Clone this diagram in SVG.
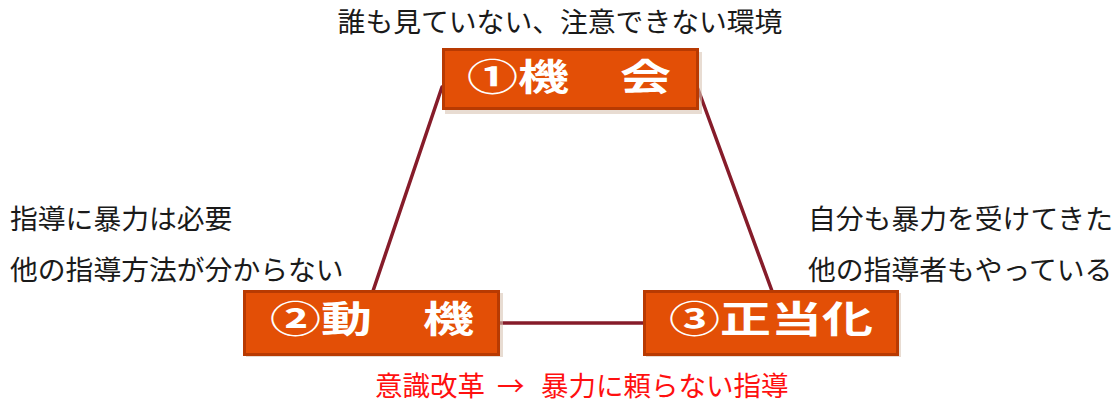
<svg xmlns="http://www.w3.org/2000/svg" width="1118" height="403" viewBox="0 0 1118 403">
<style>
.lbl{font-family:"Noto Sans CJK JP","Noto Sans",sans-serif;font-size:27.8px;fill:#1a1a1a}
.red{font-family:"Noto Sans CJK JP","Noto Sans",sans-serif;font-size:27.5px;fill:#ff1010}
.box{fill:#e34f06;stroke:#b83a02;stroke-width:3}
.shadow{fill:#d9c4b4;opacity:0.6}
.bt{font-family:"Noto Sans CJK JP","Noto Sans",sans-serif;font-size:37px;font-weight:700;fill:#ffffff}
.con{stroke:#861c2a;stroke-width:3.5;fill:none;stroke-linecap:round}
</style>
<rect width="1118" height="403" fill="#ffffff"/>
<g id="connectors">
<line class="con" x1="442" y1="87" x2="373" y2="291"/>
<line class="con" x1="698" y1="89" x2="772" y2="291"/>
<line class="con" x1="498" y1="323" x2="645" y2="323"/>
</g>
<g id="node1">
<rect class="shadow" x="445" y="52" width="257" height="62"/>
<rect class="box" x="443.5" y="49.5" width="254" height="59"/>
<text class="bt" x="467" y="90.5" textLength="204" lengthAdjust="spacingAndGlyphs">①機　会</text>
</g>
<g id="node2">
<rect class="shadow" x="246" y="293" width="257" height="64"/>
<rect class="box" x="244.5" y="291.5" width="254" height="63"/>
<text class="bt" x="270" y="333" textLength="204" lengthAdjust="spacingAndGlyphs">②動　機</text>
</g>
<g id="node3">
<rect class="shadow" x="646" y="293" width="255" height="64"/>
<rect class="box" x="644.5" y="291.5" width="253" height="63"/>
<text class="bt" x="669" y="333" textLength="204" lengthAdjust="spacingAndGlyphs">③正当化</text>
</g>
<g id="labels">
<text class="lbl" x="560" y="32" text-anchor="middle">誰も見ていない、注意できない環境</text>
<text class="lbl" x="10" y="229">指導に暴力は必要</text>
<text class="lbl" x="10" y="280">他の指導方法が分からない</text>
<text class="lbl" x="808" y="229">自分も暴力を受けてきた</text>
<text class="lbl" x="808" y="280">他の指導者もやっている</text>
<text class="red" y="396"><tspan x="375">意識改革</tspan><tspan x="497">→</tspan><tspan x="541">暴力に頼らない指導</tspan></text>
</g>
</svg>
